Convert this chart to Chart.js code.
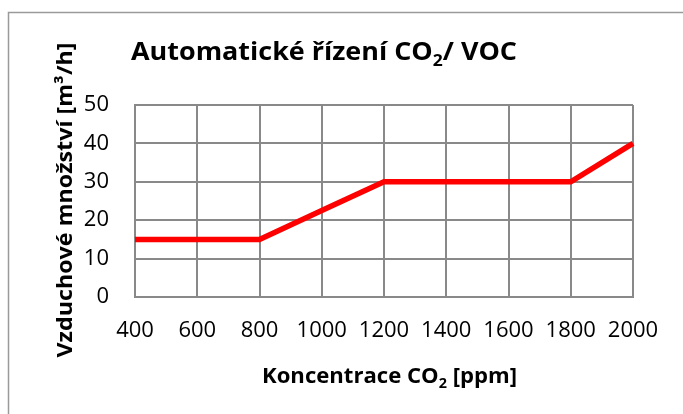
<!DOCTYPE html>
<html>
<head>
<meta charset="utf-8">
<script src="https://cdn.jsdelivr.net/npm/chart.js@4"></script>
<style>
  body { margin: 0; background: #fff; }
  #wrap { width: 683px; height: 414px; }
</style>
</head>
<body>
<div id="wrap"><canvas id="airChart" width="683" height="414"></canvas></div>
<script>
// === Automatické řízení CO2 / VOC ===

// data
const concentrations = ["400", "600", "800", "1000", "1200", "1400", "1600", "1800", "2000"];
const airflow = [15, 15, 15, 22.5, 30, 30, 30, 30, 40];
const yMin = 0;
const yMax = 50;
const yStep = 10;

// texts, parts with sub are drawn smaller and lower
const chartTitle = [{ t: "Automatické řízení CO" }, { t: "2", sub: true }, { t: "/ VOC" }];
const xTitle = [{ t: "Koncentrace CO" }, { t: "2", sub: true }, { t: " [ppm]" }];
const yTitle = [{ t: "Vzduchové množství [m³/h]" }];

const FONT = "'Open Sans', sans-serif";
const GRID = "#898989";

// draws a bold line of text with subscripts, centred on cx, baseline at by
// the text is fitted to the given width
function drawRich(ctx, parts, cx, by, size, width, rotate) {
  ctx.save();
  ctx.translate(cx, by);
  if (rotate) ctx.rotate(-Math.PI / 2);
  ctx.textBaseline = "alphabetic";
  ctx.textAlign = "left";
  ctx.fillStyle = "#000";
  let total = 0;
  parts.forEach((p) => {
    ctx.font = `bold ${p.sub ? size * 0.65 : size}px ${FONT}`;
    p.w = ctx.measureText(p.t).width;
    total += p.w;
  });
  const sx = width / total;
  ctx.scale(sx, 1);
  let x = -total / 2;
  parts.forEach((p) => {
    ctx.font = `bold ${p.sub ? size * 0.65 : size}px ${FONT}`;
    ctx.fillText(p.t, x, p.sub ? size * 0.22 : 0);
    x += p.w;
  });
  ctx.restore();
}

// frame + titles
const decorPlugin = {
  id: "decor",
  afterDraw(chart) {
    const ctx = chart.ctx;
    ctx.save();
    ctx.strokeStyle = "#9a9a9a";
    ctx.lineWidth = 1.5;
    ctx.beginPath();
    ctx.moveTo(8.5, 420);
    ctx.lineTo(8.5, 12.5);
    ctx.lineTo(690, 12.5);
    ctx.stroke();
    ctx.restore();

    drawRich(ctx, chartTitle, 324, 60, 25.5, 386, false);
    drawRich(ctx, xTitle, 389.5, 383, 21, 255, false);
    // rotated: cx is the baseline, by the middle of the text
    drawRich(ctx, yTitle, 72, 200, 21, 315, true);
  }
};

function initChart() {
  const ctx = document.getElementById("airChart").getContext("2d");
  return new Chart(ctx, {
    type: "line",
    data: {
      labels: concentrations,
      datasets: [
        {
          label: "Vzduchové množství",
          data: airflow,
          borderColor: "#ff0000",
          borderWidth: 5.5,
          pointRadius: 0,
          tension: 0,
          borderJoinStyle: "miter",
          borderCapStyle: "butt"
        }
      ]
    },
    options: {
      responsive: false,
      animation: false,
      devicePixelRatio: 1,
      layout: { padding: { top: 105, right: 50, left: 0, bottom: 0 } },
      plugins: {
        legend: { display: false },
        tooltip: { enabled: false },
        title: { display: false }
      },
      scales: {
        x: {
          type: "category",
          offset: false,
          grid: { color: GRID, lineWidth: 2, drawTicks: false },
          border: { color: GRID, width: 2 },
          ticks: {
            color: "#000",
            font: { family: FONT, size: 22 },
            padding: 21,
            maxRotation: 0,
            autoSkip: false
          },
          afterFit(scale) {
            scale.height = 117;
          }
        },
        y: {
          min: yMin,
          max: yMax,
          grid: { color: GRID, lineWidth: 2, drawTicks: false },
          border: { color: GRID, width: 2 },
          ticks: {
            stepSize: yStep,
            color: "#000",
            font: { family: FONT, size: 22 },
            padding: 26
          },
          afterFit(scale) {
            scale.width = 135;
          }
        }
      }
    },
    plugins: [decorPlugin]
  });
}

document.addEventListener("DOMContentLoaded", () => {
  initChart();
});
</script>
</body>
</html>
